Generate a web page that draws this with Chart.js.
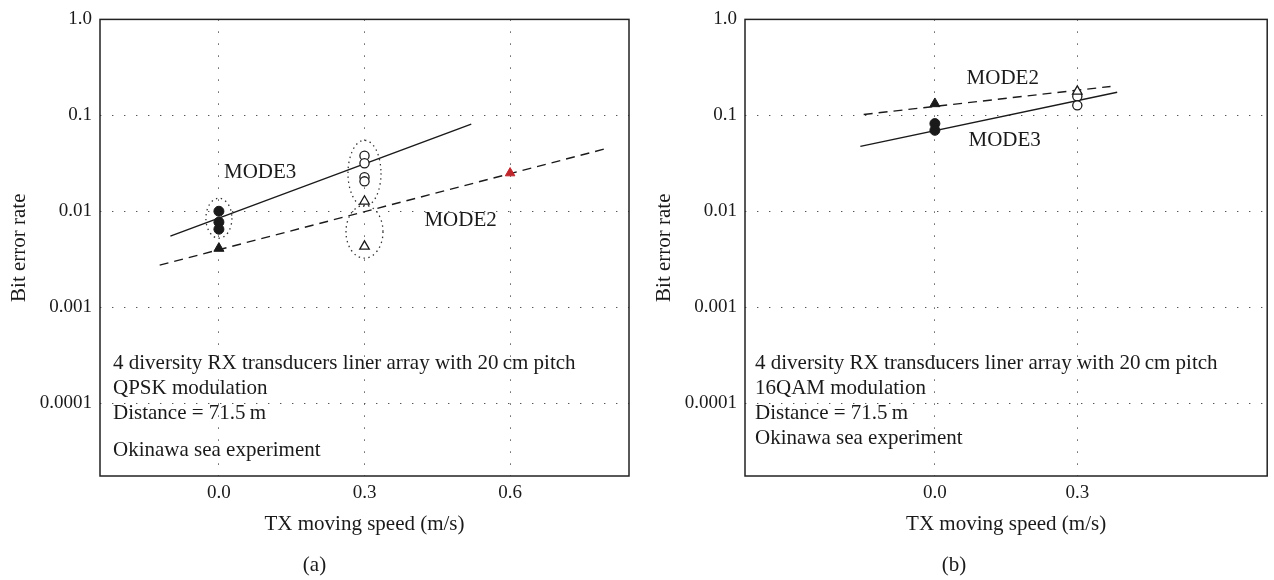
<!DOCTYPE html>
<html>
<head>
<meta charset="utf-8">
<script src="https://cdn.jsdelivr.net/npm/chart.js@4.4.1/dist/chart.umd.min.js"></script>
<style>
  html, body { margin: 0; padding: 0; background: #ffffff; }
  body { width: 1274px; height: 580px; position: relative; overflow: hidden; }
  canvas { position: absolute; top: 0; }
  #chartA { left: 0px; }
  #chartB { left: 637px; }
</style>
</head>
<body>
<canvas id="chartA" width="637" height="580"></canvas>
<canvas id="chartB" width="637" height="580"></canvas>
<script>
// ---------------- data ----------------
// shared y axis (bit error rate, log scale)
const yTickValues = [0.0001, 0.001, 0.01, 0.1, 1];
const yTickLabels = ['0.0001', '0.001', '0.01', '0.1', '1.0'];
const yMin = Math.pow(10, -4.76);
const yMax = 1;

// (a) QPSK
const aXTickValues = [0.0, 0.3, 0.6];
const aXTickLabels = ['0.0', '0.3', '0.6'];
const aXMin = -0.245, aXMax = 0.845;
const aMode3AtSpeed0 = [0.0100, 0.0077, 0.0065];      // filled circles, x = 0.0
const aMode2AtSpeed0 = [0.0041];                      // filled triangle, x = 0.0
const aMode3AtSpeed03 = [0.038, 0.0316, 0.0226, 0.0205]; // open circles, x = 0.3
const aMode2AtSpeed03 = [0.0127, 0.0043];             // open triangles, x = 0.3
const aMode2AtSpeed06 = [0.025];                      // red triangle, x = 0.6
const aMode3FitX = [-0.10, 0.52];
const aMode3FitY = [0.0055, 0.081];
const aMode2FitX = [-0.122, 0.80];
const aMode2FitY = [0.00274, 0.0453];
const aGroupX = [0.0, 0.3, 0.3];
const aGroupTop = [0.01365, 0.0549, 0.01155];
const aGroupBottom = [0.00523, 0.01127, 0.00324];
const aNotes = ['4 diversity RX transducers liner array with 20\u2009cm pitch', 'QPSK modulation', 'Distance = 71.5\u2009m', 'Okinawa sea experiment'];

// (b) 16QAM
const bXTickValues = [0.0, 0.3];
const bXTickLabels = ['0.0', '0.3'];
const bXMin = -0.40, bXMax = 0.70;
const bMode3AtSpeed0 = [0.082, 0.0698];
const bMode2AtSpeed0 = [0.132];
const bMode3AtSpeed03 = [0.158, 0.127];
const bMode2AtSpeed03 = [0.178];
const bMode3FitX = [-0.157, 0.384];
const bMode3FitY = [0.0475, 0.174];
const bMode2FitX = [-0.15, 0.37];
const bMode2FitY = [0.102, 0.20];
const bNotes = ['4 diversity RX transducers liner array with 20\u2009cm pitch', '16QAM modulation', 'Distance = 71.5\u2009m', 'Okinawa sea experiment'];

const xTitle = 'TX moving speed (m/s)';
const yTitle = 'Bit error rate';

// ---------------- helpers ----------------
const FONT = "'Liberation Serif', 'DejaVu Serif', serif";
const INK = '#1a1a1a';
const pts = (x, ys) => ys.map(y => ({x: x, y: y}));
const line = (xs, ys) => xs.map((x, i) => ({x: x, y: ys[i]}));

function extrasPlugin(cfg) {
  return {
    id: 'extras',
    beforeDatasetsDraw(chart) {
      const ctx = chart.ctx, xs = chart.scales.x, ys = chart.scales.y;
      ctx.save();
      ctx.strokeStyle = '#333';
      ctx.lineWidth = 1.3;
      ctx.setLineDash([1.4, 3.6]);
      (cfg.groups || []).forEach(g => {
        const cx = xs.getPixelForValue(g.x);
        const yt = ys.getPixelForValue(g.top);
        const yb = ys.getPixelForValue(g.bottom);
        ctx.beginPath();
        ctx.ellipse(cx, (yt + yb) / 2, g.rx, (yb - yt) / 2, 0, 0, Math.PI * 2);
        ctx.stroke();
      });
      ctx.restore();
    },
    afterDatasetsDraw(chart) {
      const ctx = chart.ctx, xs = chart.scales.x, ys = chart.scales.y, area = chart.chartArea;
      ctx.save();
      ctx.fillStyle = INK;
      ctx.font = '21px ' + FONT;
      ctx.textBaseline = 'middle';
      ctx.textAlign = 'center';
      cfg.labels.forEach(l => {
        ctx.fillText(l.text, xs.getPixelForValue(l.x), ys.getPixelForValue(l.y));
      });
      ctx.textAlign = 'left';
      cfg.notes.forEach((t, i) => {
        ctx.fillText(t, area.left + cfg.noteDx, area.top + cfg.noteDy[i]);
      });
      ctx.setLineDash([]);
      ctx.strokeStyle = '#222';
      ctx.lineWidth = 1.5;
      ctx.strokeRect(area.left, area.top, area.right - area.left, area.bottom - area.top);
      ctx.restore();
    }
  };
}

function buildChart(id, o) {
  const datasets = [];
  o.points.forEach(p => datasets.push({
    data: p.data,
    pointStyle: p.style,
    pointRadius: p.r,
    pointHoverRadius: p.r,
    pointBackgroundColor: p.fill,
    pointBorderColor: p.stroke,
    pointBorderWidth: p.bw,
    showLine: false
  }));
  o.lines.forEach(l => datasets.push({
    data: l.data,
    showLine: true,
    borderColor: INK,
    borderWidth: 1.4,
    borderDash: l.dash,
    pointRadius: 0,
    pointHoverRadius: 0,
    fill: false,
    tension: 0
  }));
  return new Chart(document.getElementById(id), {
    type: 'scatter',
    data: {datasets},
    plugins: [extrasPlugin(o.extras)],
    options: {
      responsive: false,
      animation: false,
      devicePixelRatio: 1,
      layout: {padding: {top: 19, left: 0, right: o.padRight, bottom: 0}},
      plugins: {
        legend: {display: false},
        tooltip: {enabled: false},
        title: {
          display: true, position: 'bottom', text: o.panel, color: INK,
          font: {family: FONT, size: 21, weight: 'normal'},
          padding: {top: 15.8, bottom: 2.4}
        }
      },
      scales: {
        x: {
          type: 'linear', min: o.xMin, max: o.xMax,
          afterBuildTicks: s => { s.ticks = o.xTicks.map(v => ({value: v})); },
          afterFit: s => { s.height = 60.6; },
          ticks: {
            autoSkip: false, padding: 6, color: INK, maxRotation: 0,
            font: {family: FONT, size: 19},
            callback: (v, i) => o.xLabels[i]
          },
          grid: {color: '#555', lineWidth: 1, drawTicks: false},
          border: {display: false, dash: [1.4, 10.6]},
          title: {display: true, text: xTitle, color: INK, font: {family: FONT, size: 21}, padding: {top: 0, bottom: 0}}
        },
        y: {
          type: 'logarithmic', min: yMin, max: yMax,
          afterBuildTicks: s => { s.ticks = yTickValues.map(v => ({value: v})); },
          afterFit: s => { s.width = o.yWidth; },
          ticks: {
            autoSkip: false, padding: 8, color: INK,
            font: {family: FONT, size: 19},
            callback: (v, i) => yTickLabels[i]
          },
          grid: {color: '#555', lineWidth: 1, drawTicks: false},
          border: {display: false, dash: [1.4, 10.6]},
          title: {display: true, text: yTitle, color: INK, font: {family: FONT, size: 21}, padding: {top: o.yTitlePad, bottom: 0}}
        }
      }
    }
  });
}

const RED = '#c0272d';

buildChart('chartA', {
  panel: '(a)', padRight: 8, yWidth: 100, yTitlePad: 6.4,
  xMin: aXMin, xMax: aXMax, xTicks: aXTickValues, xLabels: aXTickLabels,
  points: [
    {data: pts(0.6, aMode2AtSpeed06), style: 'triangle', r: 5.5, fill: RED, stroke: RED, bw: 1},
    {data: pts(0.3, aMode2AtSpeed03), style: 'triangle', r: 5.5, fill: '#fff', stroke: INK, bw: 1.3},
    {data: pts(0.3, aMode3AtSpeed03), style: 'circle', r: 4.6, fill: '#fff', stroke: INK, bw: 1.3},
    {data: pts(0.0, aMode2AtSpeed0), style: 'triangle', r: 5.8, fill: INK, stroke: INK, bw: 1},
    {data: pts(0.0, aMode3AtSpeed0), style: 'circle', r: 5, fill: INK, stroke: INK, bw: 1}
  ],
  lines: [
    {data: line(aMode3FitX, aMode3FitY), dash: []},
    {data: line(aMode2FitX, aMode2FitY), dash: [9, 6]}
  ],
  extras: {
    groups: aGroupX.map((x, i) => ({x: x, top: aGroupTop[i], bottom: aGroupBottom[i], rx: [13, 16.5, 18.5][i]})),
    labels: [
      {text: 'MODE3', x: 0.085, y: 0.0255},
      {text: 'MODE2', x: 0.498, y: 0.00806}
    ],
    notes: aNotes, noteDx: 13, noteDy: [344, 369, 394, 431]
  }
});

buildChart('chartB', {
  panel: '(b)', padRight: 3, yWidth: 108, yTitlePad: 14.4,
  xMin: bXMin, xMax: bXMax, xTicks: bXTickValues, xLabels: bXTickLabels,
  points: [
    {data: pts(0.3, bMode2AtSpeed03), style: 'triangle', r: 5.5, fill: '#fff', stroke: INK, bw: 1.3},
    {data: pts(0.3, bMode3AtSpeed03), style: 'circle', r: 4.6, fill: '#fff', stroke: INK, bw: 1.3},
    {data: pts(0.0, bMode2AtSpeed0), style: 'triangle', r: 5.8, fill: INK, stroke: INK, bw: 1},
    {data: pts(0.0, bMode3AtSpeed0), style: 'circle', r: 5, fill: INK, stroke: INK, bw: 1}
  ],
  lines: [
    {data: line(bMode3FitX, bMode3FitY), dash: []},
    {data: line(bMode2FitX, bMode2FitY), dash: [9, 6]}
  ],
  extras: {
    groups: [],
    labels: [
      {text: 'MODE2', x: 0.143, y: 0.243},
      {text: 'MODE3', x: 0.147, y: 0.055}
    ],
    notes: bNotes, noteDx: 10, noteDy: [344, 369, 394, 419]
  }
});
</script>
</body>
</html>
